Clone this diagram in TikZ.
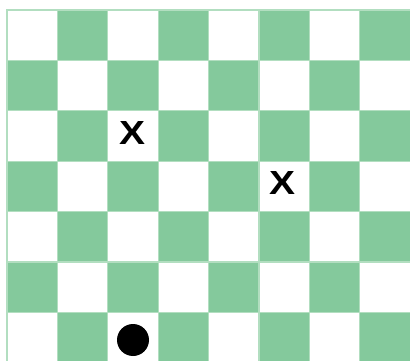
\documentclass[tikz,border=0pt]{standalone}
\usepackage{fontspec}
\setmainfont{Liberation Sans}
\usetikzlibrary{positioning}
\definecolor{boardgreen}{RGB}{132,201,156}
\definecolor{boardline}{RGB}{178,222,192}
\newcommand{\bigx}{\resizebox{26pt}{23pt}{\bfseries X}}
\begin{document}
\begin{tikzpicture}[
  x=1pt, y=-1pt,
  cell/.style={draw=boardline, line width=1.2pt},
  xmark/.style={inner sep=0pt},
  piece/.style={circle, fill=black, minimum size=32pt, inner sep=0pt}
]
\useasboundingbox (0,0) rectangle (410,361);
\clip (0,0) rectangle (410,361);
% ---- board: 8 columns x 7 rows ----
\foreach \c in {0,...,7}{
  \foreach \r in {0,...,6}{
    \pgfmathtruncatemacro{\parity}{mod(\c+\r,2)}
    \ifnum\parity=0
      \draw[cell, fill=white] ({7+50.4*\c},{10+50.4*\r}) rectangle ++(50.4,50.4);
    \else
      \draw[cell, fill=boardgreen] ({7+50.4*\c},{10+50.4*\r}) rectangle ++(50.4,50.4);
    \fi
  }
}
% ---- marks and piece ----
\node[xmark] (x1) at (132,133) {\bigx};
\node[xmark] (x2) at (282,183) {\bigx};
\node[piece] (dot) at (133,340) {};
\end{tikzpicture}
\end{document}
